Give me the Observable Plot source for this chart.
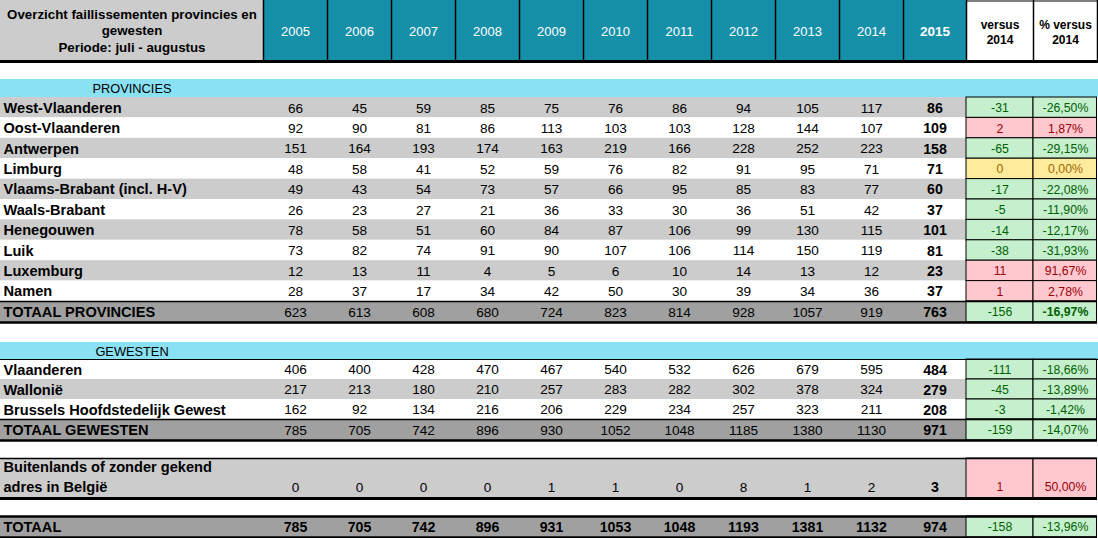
<!DOCTYPE html>
<html><head><meta charset="utf-8">
<script src="https://cdn.jsdelivr.net/npm/d3@7"></script>
<script src="https://cdn.jsdelivr.net/npm/@observablehq/plot@0.6"></script>
<style>body{margin:0;background:#fff;overflow:hidden}</style>
</head><body><div id="chart"></div>
<script>
// ---------- DATA ----------
const years = [2005, 2006, 2007, 2008, 2009, 2010, 2011, 2012, 2013, 2014, 2015];
const titleLines = ["Overzicht faillissementen provincies en", "gewesten", "Periode: juli - augustus"];
const diffHeader = "versus\n2014";
const pctHeader = "% versus\n2014";
const sectionLabels = ["PROVINCIES", "GEWESTEN"];

const provNames = ["West-Vlaanderen", "Oost-Vlaanderen", "Antwerpen", "Limburg", "Vlaams-Brabant (incl. H-V)",
  "Waals-Brabant", "Henegouwen", "Luik", "Luxemburg", "Namen"];
const provValues = [
  [66, 45, 59, 85, 75, 76, 86, 94, 105, 117, 86],
  [92, 90, 81, 86, 113, 103, 103, 128, 144, 107, 109],
  [151, 164, 193, 174, 163, 219, 166, 228, 252, 223, 158],
  [48, 58, 41, 52, 59, 76, 82, 91, 95, 71, 71],
  [49, 43, 54, 73, 57, 66, 95, 85, 83, 77, 60],
  [26, 23, 27, 21, 36, 33, 30, 36, 51, 42, 37],
  [78, 58, 51, 60, 84, 87, 106, 99, 130, 115, 101],
  [73, 82, 74, 91, 90, 107, 106, 114, 150, 119, 81],
  [12, 13, 11, 4, 5, 6, 10, 14, 13, 12, 23],
  [28, 37, 17, 34, 42, 50, 30, 39, 34, 36, 37]
];
const provDiff = [-31, 2, -65, 0, -17, -5, -14, -38, 11, 1];
const provPct = [-26.50, 1.87, -29.15, 0.00, -22.08, -11.90, -12.17, -31.93, 91.67, 2.78];

const totProvLabel = "TOTAAL PROVINCIES";
const totProvValues = [623, 613, 608, 680, 724, 823, 814, 928, 1057, 919, 763];
const totProvDiff = -156;
const totProvPct = -16.97;

const gewNames = ["Vlaanderen", "Wallonië", "Brussels Hoofdstedelijk Gewest"];
const gewValues = [
  [406, 400, 428, 470, 467, 540, 532, 626, 679, 595, 484],
  [217, 213, 180, 210, 257, 283, 282, 302, 378, 324, 279],
  [162, 92, 134, 216, 206, 229, 234, 257, 323, 211, 208]
];
const gewDiff = [-111, -45, -3];
const gewPct = [-18.66, -13.89, -1.42];

const totGewLabel = "TOTAAL GEWESTEN";
const totGewValues = [785, 705, 742, 896, 930, 1052, 1048, 1185, 1380, 1130, 971];
const totGewDiff = -159;
const totGewPct = -14.07;

const buitLabel = "Buitenlands of zonder gekend\nadres in België";
const buitValues = [0, 0, 0, 0, 1, 1, 0, 8, 1, 2, 3];
const buitDiff = 1;
const buitPct = 50.00;

const totLabel = "TOTAAL";
const totValues = [785, 705, 742, 896, 931, 1053, 1048, 1193, 1381, 1132, 974];
const totDiff = -158;
const totPct = -13.96;

// ---------- LAYOUT ----------
const W = 1098, H = 538;
const colWidths = [263, 64, 64, 64, 64, 64, 64, 64, 64, 64, 64, 63, 67, 64];
const edges = [0];
colWidths.forEach(w => edges.push(edges[edges.length - 1] + w));
const cx = i => (edges[i] + edges[i + 1]) / 2;
const yearCol = j => j + 1;
const DIFF = 12, PCT = 13;
const tableRight = edges[DIFF];

const C = {
  gray: "#cccccc", dark: "#a0a0a0", teal: "#1690a8", band: "#89e1f3",
  gFill: "#c6efce", gText: "#006100", rFill: "#ffc7ce", rText: "#9c0006",
  yFill: "#ffeb9c", yText: "#9c6500"
};

const fmtPct = v => (v < 0 ? "-" : "") + Math.abs(v).toFixed(2).replace(".", ",") + "%";

const rows = [];
provNames.forEach((n, i) => rows.push({label: n, values: provValues[i], diff: provDiff[i], pct: provPct[i],
  y1: 97 + i * 20.4, y2: 97 + (i + 1) * 20.4, fill: i % 2 === 0 ? C.gray : "#ffffff"}));
rows.push({label: totProvLabel, values: totProvValues, diff: totProvDiff, pct: totProvPct, y1: 301, y2: 322, fill: C.dark, pctBold: true});
gewNames.forEach((n, i) => rows.push({label: n, values: gewValues[i], diff: gewDiff[i], pct: gewPct[i],
  y1: 359 + i * 20, y2: 359 + (i + 1) * 20, fill: i % 2 === 1 ? C.gray : "#ffffff"}));
rows.push({label: totGewLabel, values: totGewValues, diff: totGewDiff, pct: totGewPct, y1: 419, y2: 440, fill: C.dark});
rows.push({label: buitLabel, values: buitValues, diff: buitDiff, pct: buitPct, y1: 458, y2: 498, fill: C.gray, twoLine: true});
rows.push({label: totLabel, values: totValues, diff: totDiff, pct: totPct, y1: 516, y2: 537, fill: C.dark, allBold: true});

rows.forEach(r => {
  r.ty = r.twoLine ? r.y2 - 11 : (r.y1 + r.y2) / 2 + 0.5;
  r.cf = r.diff < 0 ? C.gFill : r.diff > 0 ? C.rFill : C.yFill;
  r.ct = r.diff < 0 ? C.gText : r.diff > 0 ? C.rText : C.yText;
});

const valueTexts = [];
rows.forEach(r => r.values.forEach((v, j) => valueTexts.push({
  x: cx(yearCol(j)), y: r.ty, text: String(v), bold: r.allBold || j === years.length - 1
})));
const diffCells = [];
rows.forEach(r => {
  diffCells.push({x1: edges[DIFF], x2: edges[DIFF + 1], y1: r.y1, y2: r.y2, fill: r.cf, t: String(r.diff), tc: r.ct, x: cx(DIFF), y: r.ty, bold: false});
  diffCells.push({x1: edges[PCT], x2: edges[PCT + 1] - 0.5, y1: r.y1, y2: r.y2, fill: r.cf, t: fmtPct(r.pct), tc: r.ct, x: cx(PCT), y: r.ty, bold: !!r.pctBold});
});

const headerCells = [
  {x1: 0, x2: edges[1], fill: C.gray},
  {x1: edges[1], x2: tableRight, fill: C.teal},
  {x1: tableRight, x2: edges[PCT + 1], fill: "#ffffff"}
];
const headerYears = years.map((y, j) => ({x: cx(yearCol(j)), text: String(y), bold: j === years.length - 1}));
const vLines = edges.slice(1).map(e => ({x: e}));

const bands = [{y1: 79, y2: 97, label: sectionLabels[0]}, {y1: 342, y2: 359, label: sectionLabels[1]}];

const hLines = [
  {y: 61, x1: 0, x2: W, w: 3},
  {y: 0.5, x1: tableRight, x2: edges[PCT + 1], w: 1},
  {y: 359, x1: 0, x2: W, w: 1},
  {y: 301, x1: 0, x2: edges[PCT + 1], w: 1.5},
  {y: 322, x1: 0, x2: edges[PCT + 1], w: 2.5},
  {y: 419, x1: 0, x2: edges[PCT + 1], w: 1.5},
  {y: 440, x1: 0, x2: edges[PCT + 1], w: 2.5},
  {y: 458, x1: 0, x2: edges[PCT + 1], w: 1.5},
  {y: 498, x1: 0, x2: edges[PCT + 1], w: 3},
  {y: 516, x1: 0, x2: edges[PCT + 1], w: 2.5},
  {y: 537, x1: 0, x2: edges[PCT + 1], w: 2.5}
];

const font = "'Liberation Sans', Arial, sans-serif";

const chart = Plot.plot({
  width: W, height: H,
  margin: 0,
  x: {type: "linear", domain: [0, W], range: [0, W], axis: null},
  y: {type: "linear", domain: [0, H], range: [0, H], axis: null},
  style: {fontFamily: font, fontSize: "13px", background: "#fff", overflow: "visible"},
  marks: [
    Plot.rect(headerCells, {x1: "x1", x2: "x2", y1: 0, y2: 61, fill: "fill"}),
    Plot.ruleX(vLines, {x: "x", y1: 0, y2: 61, stroke: "#000", strokeWidth: 1.5}),
    Plot.text([titleLines.join("\n")], {x: cx(0), y: 29.5, text: d => d, fontWeight: "bold", fontSize: 13.3, lineHeight: 1.24, fill: "#000"}),
    Plot.text(headerYears.filter(d => !d.bold), {x: "x", y: 31, text: "text", fill: "#fff", fontSize: 13}),
    Plot.text(headerYears.filter(d => d.bold), {x: "x", y: 31, text: "text", fill: "#fff", fontSize: 13.5, fontWeight: "bold"}),
    Plot.text([diffHeader], {x: cx(DIFF), y: 31, text: d => d, fontWeight: "bold", fontSize: 12, lineHeight: 1.25, fill: "#000"}),
    Plot.text([pctHeader], {x: cx(PCT), y: 31, text: d => d, fontWeight: "bold", fontSize: 12, lineHeight: 1.25, fill: "#000"}),
    Plot.rect(bands, {x1: 0, x2: W, y1: "y1", y2: "y2", fill: C.band}),
    Plot.text(bands, {x: cx(0), y: d => (d.y1 + d.y2) / 2 + 0.5, text: "label", fontSize: 12.8, fill: "#000"}),
    Plot.rect(rows, {x1: 0, x2: tableRight, y1: "y1", y2: "y2", fill: "fill"}),
    Plot.rect(diffCells, {x1: "x1", x2: "x2", y1: "y1", y2: "y2", fill: "fill", stroke: "#000", strokeWidth: 1}),
    Plot.ruleY(hLines, {y: "y", x1: "x1", x2: "x2", stroke: "#000", strokeWidth: "w"}),
    Plot.text(rows.filter(r => !r.twoLine), {x: 3, y: "ty", text: "label", textAnchor: "start", fontWeight: "bold", fontSize: 14.6, fill: "#000"}),
    Plot.text(rows.filter(r => r.twoLine), {x: 3, y: r => (r.y1 + r.y2) / 2 - 2.5, text: "label", textAnchor: "start", fontWeight: "bold", fontSize: 14.6, lineHeight: 1.37, fill: "#000"}),
    Plot.text(valueTexts.filter(d => !d.bold), {x: "x", y: "y", text: "text", fontSize: 13.6, fill: "#000"}),
    Plot.text(valueTexts.filter(d => d.bold), {x: "x", y: "y", text: "text", fontSize: 14.2, fontWeight: "bold", fill: "#000"}),
    Plot.text(diffCells.filter(d => !d.bold), {x: "x", y: "y", text: "t", fill: "tc", fontSize: 12.3}),
    Plot.text(diffCells.filter(d => d.bold), {x: "x", y: "y", text: "t", fill: "tc", fontSize: 12.3, fontWeight: "bold"})
  ]
});
document.getElementById("chart").appendChild(chart);
</script>
</body></html>
